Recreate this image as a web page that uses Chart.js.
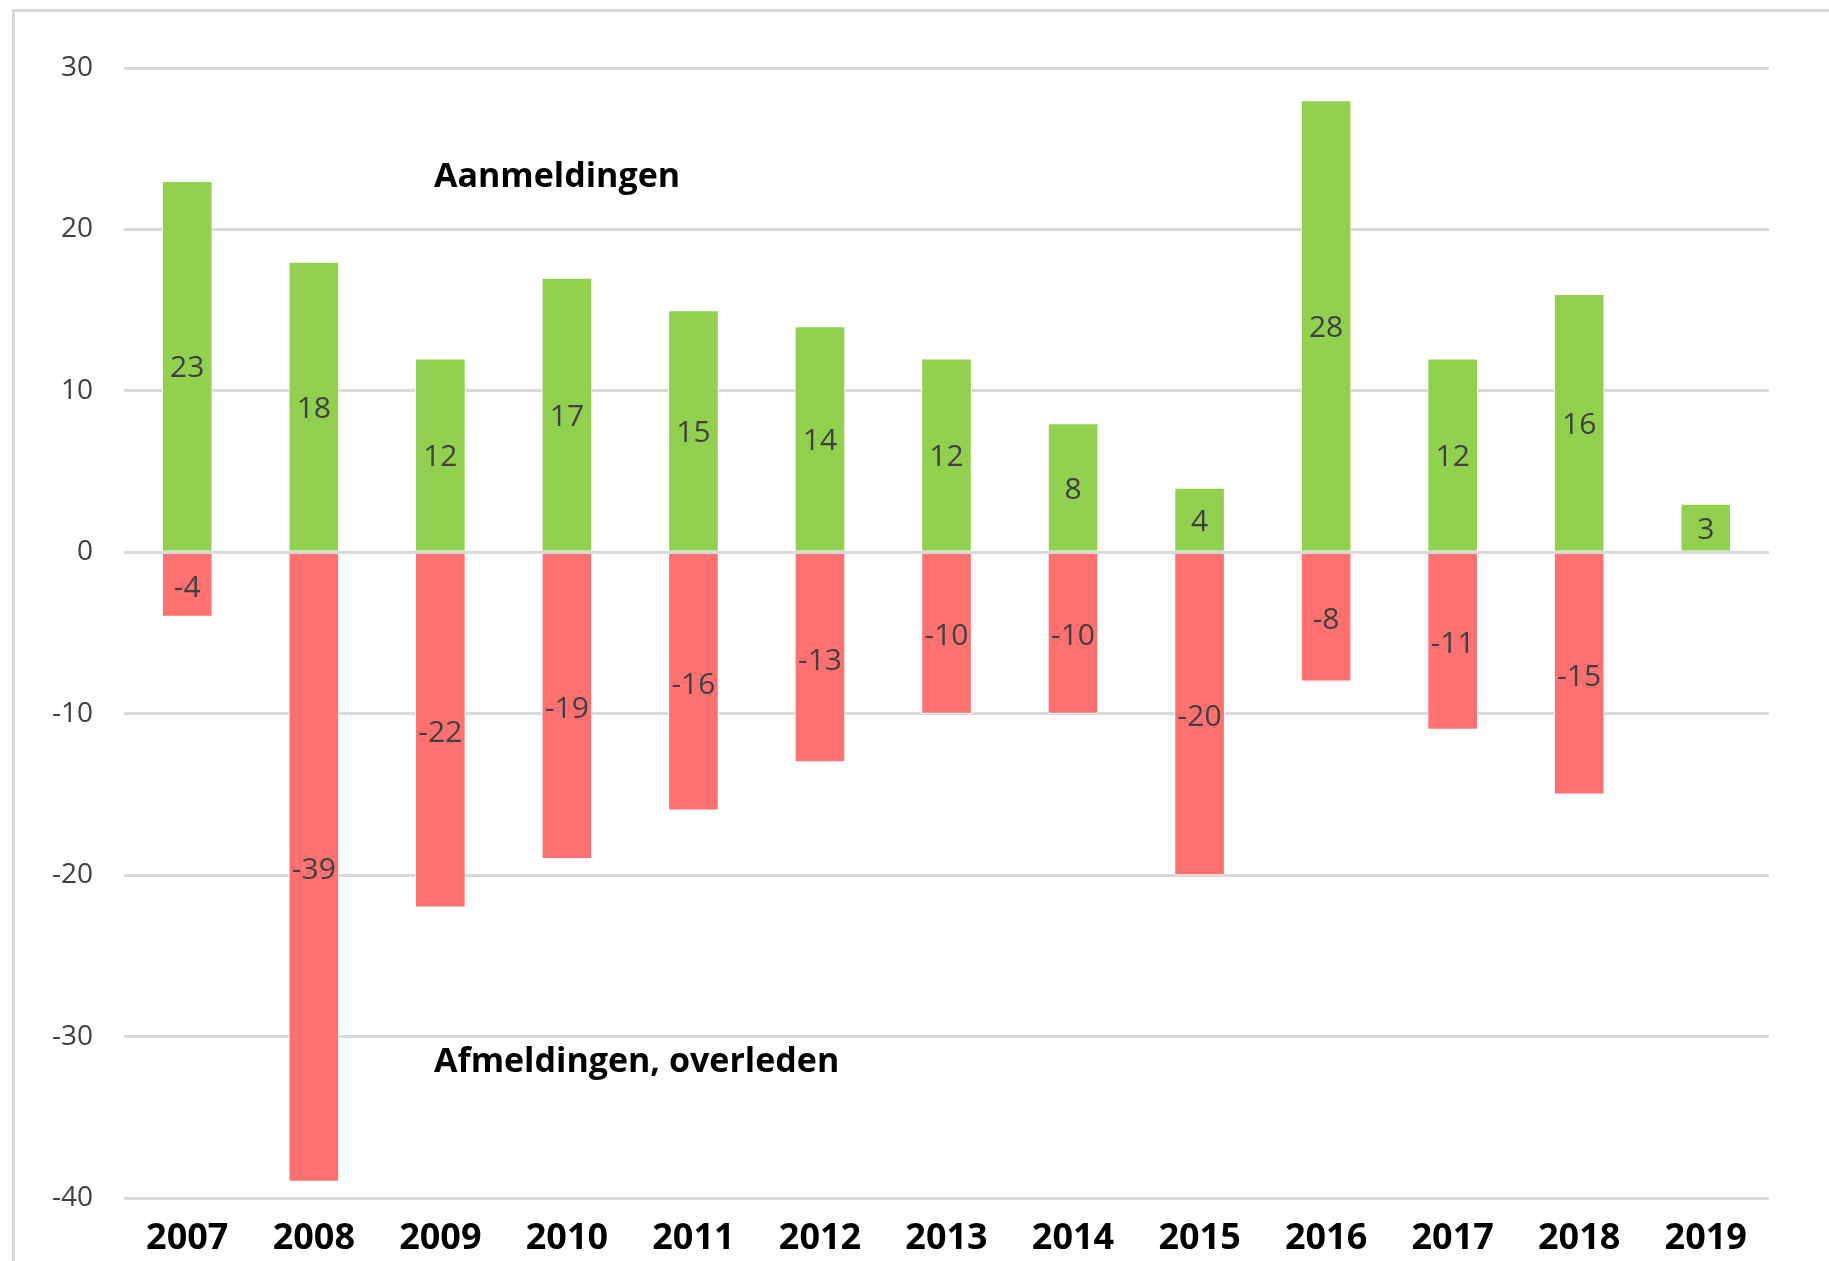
<!DOCTYPE html>
<html>
<head>
<meta charset="utf-8">
<script src="https://cdn.jsdelivr.net/npm/chart.js@4/dist/chart.umd.min.js"></script>
<style>
  html, body { margin: 0; padding: 0; background: #fff; }
  #wrap { width: 1829px; height: 1261px; position: relative; }
</style>
</head>
<body>
<div id="wrap"><canvas id="graph"></canvas></div>
<script>
var years = ['2007','2008','2009','2010','2011','2012','2013','2014','2015','2016','2017','2018','2019'];
var aanmeldingen = [23, 18, 12, 17, 15, 14, 12, 8, 4, 28, 12, 16, 3];
var afmeldingen = [-4, -39, -22, -19, -16, -13, -10, -10, -20, -8, -11, -15, null];
var yTicks = [30, 20, 10, 0, -10, -20, -30, -40];

var fontName = "'Open Sans', 'Noto Sans', sans-serif";

// frame round the chart, like the excel chart border
var framePlugin = {
  id: 'frame',
  beforeDraw: function(chart){
    var ctx = chart.ctx;
    ctx.save();
    ctx.fillStyle = '#fff';
    ctx.fillRect(0, 0, chart.width, chart.height);
    ctx.strokeStyle = '#d9d9d9';
    ctx.lineWidth = 3;
    ctx.strokeRect(13.5, 10.5, chart.width + 20, chart.height + 20);
    ctx.restore();
  }
};

// value labels in the middle of each bar + the two text notes
var labelPlugin = {
  id: 'barlabels',
  afterDatasetsDraw: function(chart){
    var ctx = chart.ctx;
    ctx.save();
    ctx.font = '30px ' + fontName;
    ctx.fillStyle = '#404040';
    ctx.textAlign = 'center';
    ctx.textBaseline = 'middle';
    chart.data.datasets.forEach(function(ds, i){
      var meta = chart.getDatasetMeta(i);
      meta.data.forEach(function(bar, j){
        var v = ds.data[j];
        if (v === null || v === undefined) return;
        var p = bar.getProps(['x', 'y', 'base'], true);
        ctx.fillText(String(v), p.x, (p.y + p.base) / 2 + 3);
      });
    });
    var xs = chart.scales.x, ys = chart.scales.y;
    ctx.font = 'bold 34px ' + fontName;
    ctx.fillStyle = '#000';
    ctx.textAlign = 'left';
    var x0 = xs.getPixelForValue(1.95);
    ctx.fillText('Aanmeldingen', x0, ys.getPixelForValue(23.2));
    ctx.fillText('Afmeldingen, overleden', x0, ys.getPixelForValue(-31.6));
    ctx.restore();
  }
};

var chartdata = {
  labels: years,
  datasets: [
    {
      label: 'Aanmeldingen',
      backgroundColor: '#92d050',
      borderColor: '#ffffff',
      borderWidth: 1,
      data: aanmeldingen
    },
    {
      label: 'Afmeldingen, overleden',
      backgroundColor: '#ff7070',
      borderColor: '#ffffff',
      borderWidth: 1,
      data: afmeldingen
    }
  ]
};

var barGraph = new Chart(document.getElementById('graph'), {
  type: 'bar',
  data: chartdata,
  plugins: [framePlugin, labelPlugin],
  options: {
    responsive: true,
    maintainAspectRatio: false,
    animation: false,
    layout: { padding: { top: 68, right: 60, left: 0, bottom: 0 } },
    datasets: { bar: { barPercentage: 0.4, categoryPercentage: 1 } },
    plugins: { legend: { display: false }, tooltip: { enabled: false } },
    scales: {
      x: {
        stacked: true,
        grid: { display: false, drawTicks: false },
        border: { display: false },
        ticks: { color: '#000', font: { family: fontName, size: 36, weight: 'bold' }, padding: 19, maxRotation: 0 },
        afterFit: function(s){ s.height = 63; }
      },
      y: {
        stacked: true,
        min: -40,
        max: 30,
        afterBuildTicks: function(s){ s.ticks = yTicks.map(function(v){ return { value: v }; }); },
        grid: { color: '#d9d9d9', lineWidth: 3, drawTicks: false },
        border: { display: false },
        ticks: { color: '#404040', font: { family: fontName, size: 28 }, padding: 31 },
        afterFit: function(s){ s.width = 124; }
      }
    }
  }
});
</script>
</body>
</html>
